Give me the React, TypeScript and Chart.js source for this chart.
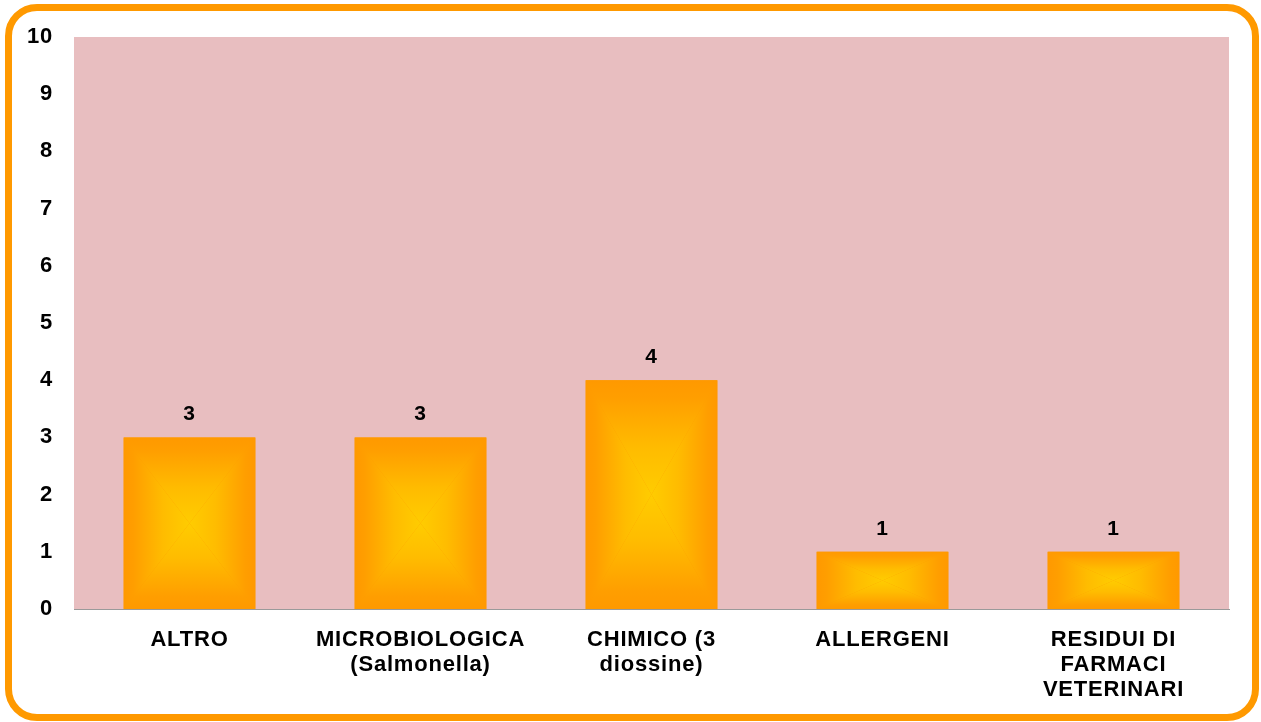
import React, { useEffect, useRef } from 'react';
import { Chart, registerables } from 'chart.js';

Chart.register(...registerables);

const categories: (string | string[])[] = [
  'ALTRO',
  ['MICROBIOLOGICA', '(Salmonella)'],
  ['CHIMICO (3', 'diossine)'],
  'ALLERGENI',
  ['RESIDUI DI', 'FARMACI', 'VETERINARI'],
];
const values = [3, 3, 4, 1, 1];
const yMin = 0;
const yMax = 10;
const yStep = 1;

const FONT = '"Liberation Sans", Arial, Helvetica, sans-serif';
const EDGE = '#FF9900';
const CENTER = '#FFCC00';
const PLOT_BG = '#E8BEC0';

const spacingPlugin = {
  id: 'spacing',
  beforeLayout(chart: any) {
    chart.ctx.letterSpacing = '0.8px';
  },
  beforeDraw(chart: any) {
    chart.ctx.letterSpacing = '0.8px';
  },
};

const plotBgPlugin = {
  id: 'plotBg',
  beforeDatasetsDraw(chart: any) {
    const { ctx, chartArea } = chart;
    ctx.save();
    ctx.fillStyle = PLOT_BG;
    ctx.fillRect(chartArea.left, chartArea.top, chartArea.right - chartArea.left, chartArea.bottom - chartArea.top);
    ctx.restore();
  },
};

const barDecorPlugin = {
  id: 'barDecor',
  afterDatasetsDraw(chart: any) {
    const ctx = chart.ctx;
    const meta = chart.getDatasetMeta(0);
    const ds = chart.data.datasets[0];
    meta.data.forEach((el: any, i: number) => {
      const { x, y, base, width } = el.getProps(['x', 'y', 'base', 'width'], true);
      const l = x - width / 2;
      const r = x + width / 2;
      const t = Math.min(y, base);
      const b = Math.max(y, base);
      const cx = x;
      const cy = (t + b) / 2;
      ctx.save();
      const tri = (pts: number[][], x0: number, y0: number, x1: number, y1: number) => {
        const g = ctx.createLinearGradient(x0, y0, x1, y1);
        g.addColorStop(0, EDGE);
        g.addColorStop(0.15, '#FF9E00');
        g.addColorStop(0.6, '#FFBC00');
        g.addColorStop(1, CENTER);
        ctx.beginPath();
        ctx.moveTo(pts[0][0], pts[0][1]);
        ctx.lineTo(pts[1][0], pts[1][1]);
        ctx.lineTo(pts[2][0], pts[2][1]);
        ctx.closePath();
        ctx.fillStyle = g;
        ctx.fill();
      };
      tri([[l, t], [r, t], [cx, cy]], cx, t, cx, cy);
      tri([[l, b], [r, b], [cx, cy]], cx, b, cx, cy);
      tri([[l, t], [l, b], [cx, cy]], l, cy, cx, cy);
      tri([[r, t], [r, b], [cx, cy]], r, cy, cx, cy);
      // value label
      ctx.fillStyle = '#000000';
      ctx.font = `bold 21px ${FONT}`;
      ctx.textAlign = 'center';
      ctx.textBaseline = 'middle';
      ctx.fillText(String(ds.data[i]), x, t - 23);
      ctx.restore();
    });
  },
};

export default function App() {
  const canvasRef = useRef<HTMLCanvasElement | null>(null);

  useEffect(() => {
    if (!canvasRef.current) return;
    const chart = new Chart(canvasRef.current, {
      type: 'bar',
      data: {
        labels: categories,
        datasets: [
          {
            data: values,
            backgroundColor: EDGE,
            borderWidth: 0,
            barPercentage: 0.57,
            categoryPercentage: 1.0,
          },
        ],
      },
      options: {
        responsive: false,
        animation: false,
        layout: { padding: { top: 37, right: 32, bottom: 0, left: 0 } },
        plugins: {
          legend: { display: false },
          tooltip: { enabled: false },
          title: { display: false },
        },
        scales: {
          x: {
            grid: { display: false, drawTicks: false },
            border: { display: true, color: '#9A9A9A', width: 1 },
            ticks: {
              color: '#000000',
              font: { family: FONT, size: 22, weight: 'bold', lineHeight: 1.14 },
              padding: 18,
              maxRotation: 0,
              autoSkip: false,
            },
            afterFit(scale: any) {
              scale.height = 113;
            },
          },
          y: {
            min: yMin,
            max: yMax,
            grid: { display: false, drawTicks: false },
            border: { display: true, color: '#9A9A9A', width: 1 },
            ticks: {
              stepSize: yStep,
              color: '#000000',
              font: { family: FONT, size: 22, weight: 'bold' },
              padding: 21,
            },
            afterFit(scale: any) {
              scale.width = 74;
            },
          },
        },
      },
      plugins: [spacingPlugin, plotBgPlugin, barDecorPlugin],
    });
    return () => chart.destroy();
  }, []);

  return (
    <div style={{ position: 'fixed', left: 0, top: 0, width: 1261, height: 722, background: '#ffffff' }}>
      <div
        style={{
          position: 'absolute',
          left: 5,
          top: 4,
          width: 1254,
          height: 717,
          boxSizing: 'border-box',
          border: '7px solid #FF9900',
          borderRadius: 32,
          background: '#ffffff',
        }}
      />
      <canvas
        ref={canvasRef}
        width={1261}
        height={722}
        style={{ position: 'absolute', left: 0, top: 0, width: 1261, height: 722 }}
      />
    </div>
  );
}
